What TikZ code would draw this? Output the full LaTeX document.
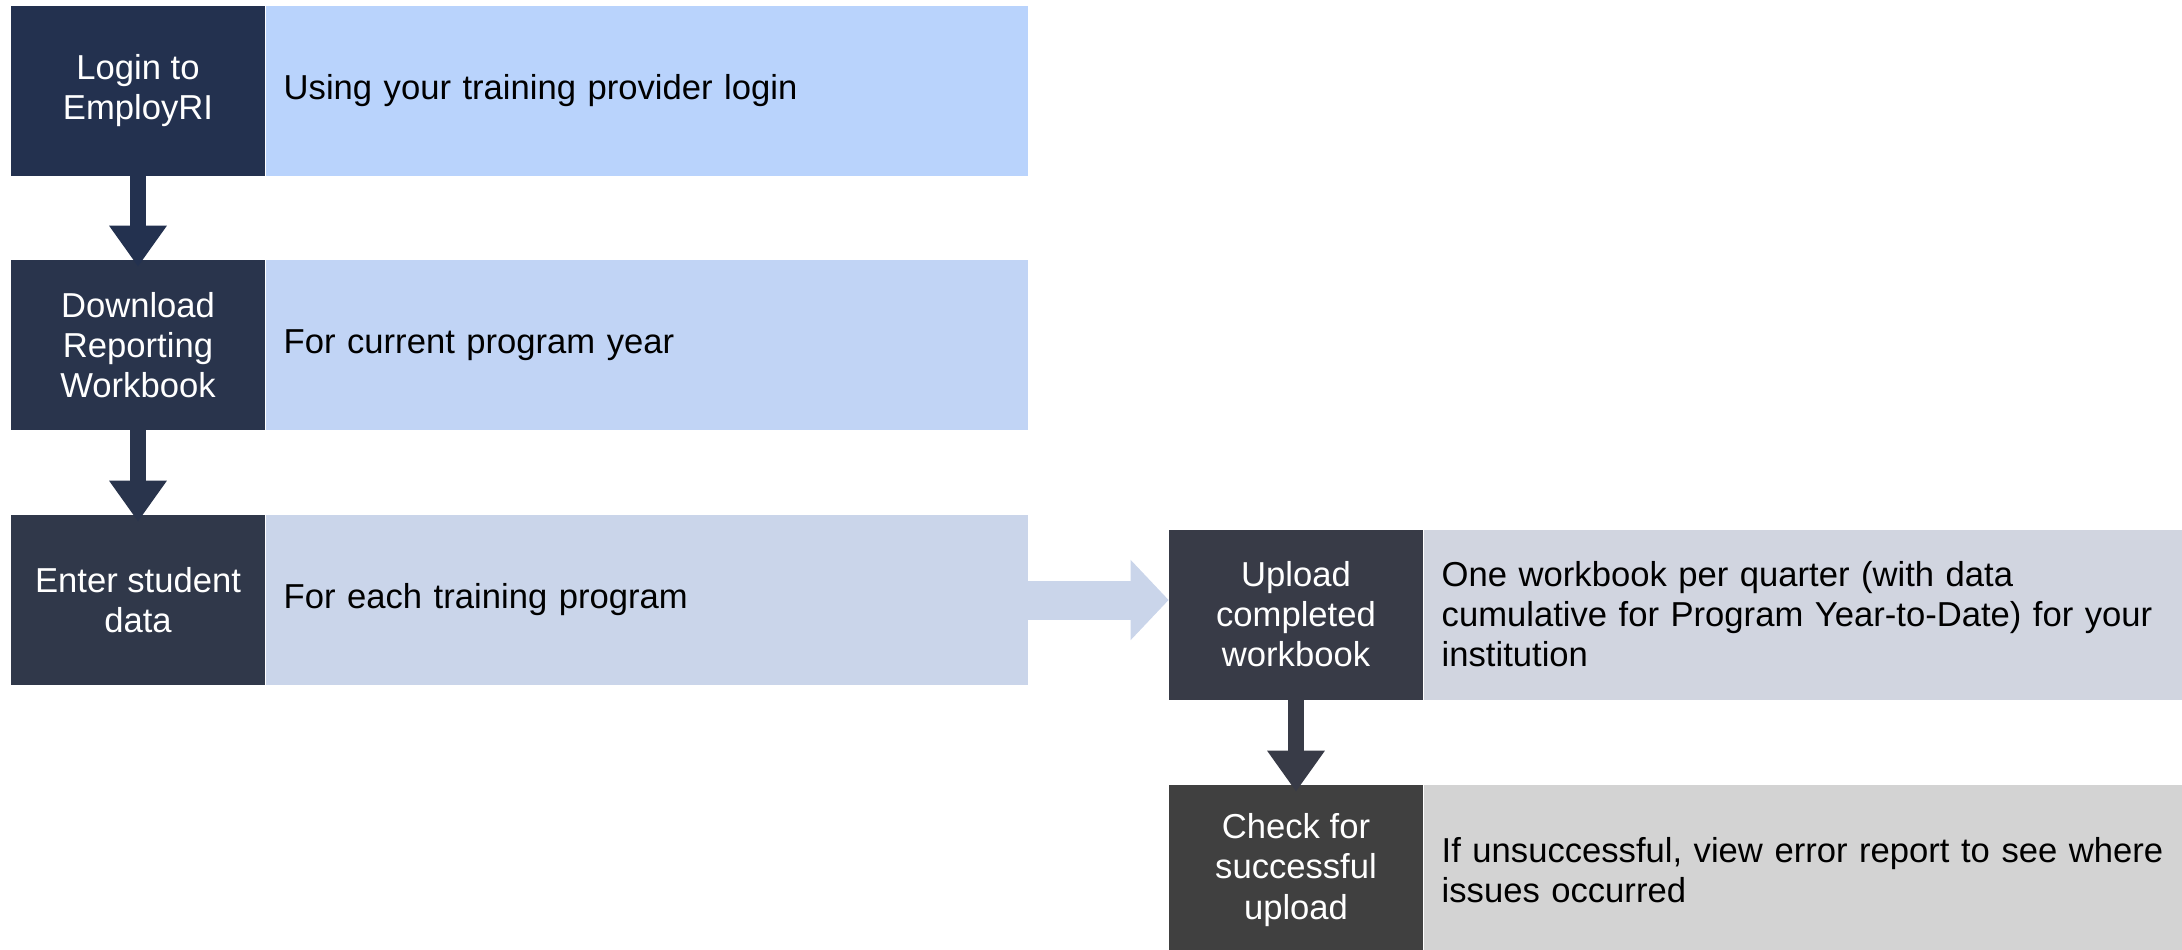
\documentclass[tikz,border=0pt]{standalone}
\usepackage{fontspec}
\setmainfont{Liberation Sans}
\usepackage{tikz}
\usetikzlibrary{
    positioning,
    arrows.meta
}

\begin{document}
\begin{tikzpicture}[
    font=\fontsize{19.7}{22.8}\selectfont,
    stepbox/.style={
    	minimum width=5.08cm,
    	minimum height=3.4cm,
    	inner sep=0pt, align=center, text=white
    }, info/.style={
    	minimum height=3.4cm,
    	text width=14.52cm,
    	inner xsep=0.36cm, inner ysep=0pt, align=left
    }, pil/.style={
    	-{Triangle[width=1.1cm,length=0.82cm]},
    	line width=0.32cm,
    	shorten >=-0.14cm
    }]
    \definecolor{dark-1}{RGB}{35, 49, 79}
    \definecolor{dark-2}{RGB}{41, 52, 76}
    \definecolor{dark-3}{RGB}{48, 56, 74}
    \definecolor{dark-4}{RGB}{56, 59, 71}
    \definecolor{dark-5}{RGB}{64, 64, 64}
    \definecolor{light-1}{RGB}{185, 211, 252}
    \definecolor{light-2}{RGB}{193, 212, 245}
    \definecolor{light-3}{RGB}{202, 213, 234}
    \definecolor{light-4}{RGB}{209, 213, 224}
    \definecolor{light-5}{RGB}{211, 211, 211}

    \useasboundingbox (0,0) rectangle (43.64,-19);

    %%% steps
    \node[stepbox, fill=dark-1] (step1) at (2.76,-1.82) {Login to\\EmployRI};
    \node[stepbox, fill=dark-2] (step2) at (2.76,-6.9) {Download\\Reporting\\Workbook};
    \node[stepbox, fill=dark-3] (step3) at (2.76,-12.0) {Enter student\\data};
    \node[stepbox, fill=dark-4] (step4) at (25.92,-12.29) {Upload\\completed\\workbook};
    \node[stepbox, fill=dark-5] (step5) at (25.92,-17.4) {Check for\\successful\\upload};

    %%% notes
    \node[info, fill=light-1, right=0pt of step1] (info1) {Using your training provider login};
    \node[info, fill=light-2, right=0pt of step2] (info2) {For current program year};
    \node[info, fill=light-3, right=0pt of step3] (info3) {For each training program};
    \node[info, fill=light-4, right=0pt of step4] (info4) {One workbook per quarter (with data\\cumulative for Program Year-to-Date) for your\\institution};
    \node[info, fill=light-5, right=0pt of step5] (info5) {If unsuccessful, view error report to see where\\issues occurred};

    %%% ARROWS
    \draw[pil, dark-1] (step1) -- (step2.north);
    \draw[pil, dark-2] (step2) -- (step3.north);
    \draw[pil, dark-4] (step4) -- (step5.north);
    \draw[light-3, line width=0.78cm, -{Triangle[width=1.56cm,length=0.76cm]}] (info3.east) -- (info3.east -| step4.west);

\end{tikzpicture}
\end{document}
